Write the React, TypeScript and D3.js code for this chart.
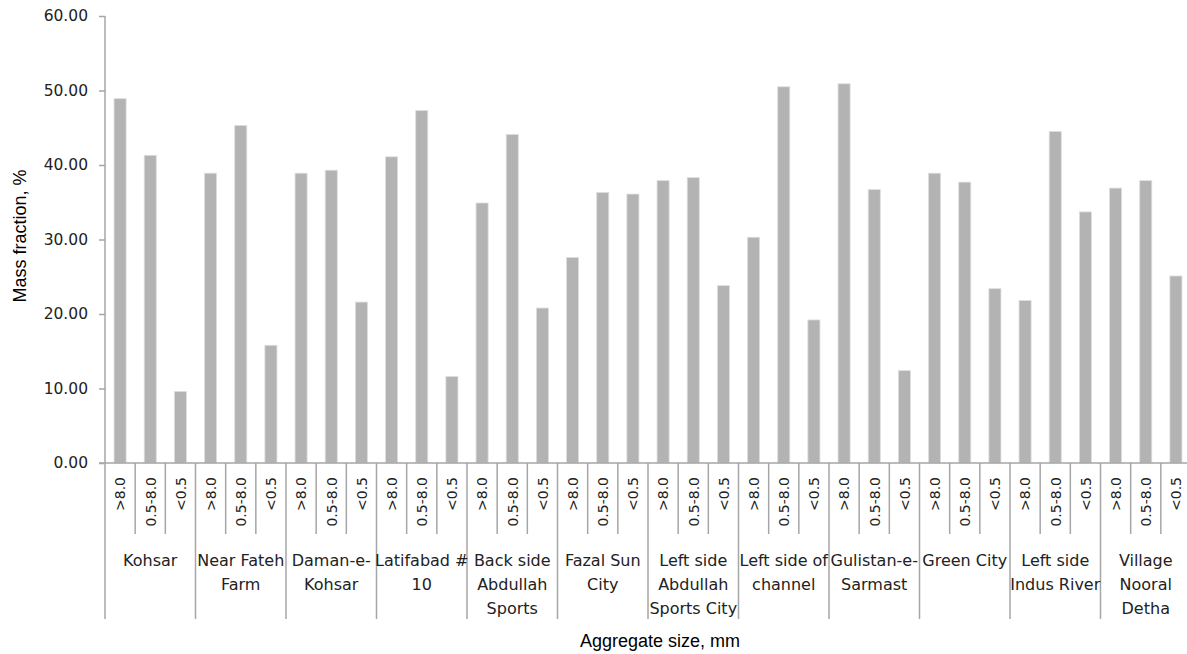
import React, { useRef, useEffect } from 'react';
import * as d3 from 'd3';

// sampling sites (one label line per entry)
const sites: string[][] = [
  ['Kohsar'],
  ['Near Fateh', 'Farm'],
  ['Daman-e-', 'Kohsar'],
  ['Latifabad #', '10'],
  ['Back side', 'Abdullah', 'Sports'],
  ['Fazal Sun', 'City'],
  ['Left side', 'Abdullah', 'Sports City'],
  ['Left side of', 'channel'],
  ['Gulistan-e-', 'Sarmast'],
  ['Green City'],
  ['Left side', 'Indus River'],
  ['Village', 'Nooral', 'Detha'],
];

const sizeClasses = ['>8.0', '0.5-8.0', '<0.5'];

// mass fraction, % per size class
const coarse = [48.9, 38.9, 38.9, 41.1, 34.9, 27.6, 37.9, 30.3, 50.9, 38.9, 21.8, 36.9];
const medium = [41.3, 45.3, 39.3, 47.3, 44.1, 36.3, 38.3, 50.5, 36.7, 37.7, 44.5, 37.9];
const fine = [9.6, 15.8, 21.6, 11.6, 20.8, 36.1, 23.8, 19.2, 12.4, 23.4, 33.7, 25.1];

const yTicks = [0, 10, 20, 30, 40, 50, 60];

const W = 1187;
const H = 654;
const AXIS = '#a6a6a6';
const BAR = '#b3b3b3';

const Chart: React.FC = () => {
  const svgRef = useRef<SVGSVGElement>(null);

  useEffect(() => {
    if (!svgRef.current) return;
    const svg = d3.select(svgRef.current);
    svg.selectAll('*').remove();

    const series = [coarse, medium, fine];
    const rows = sites.flatMap((s, gi) =>
      sizeClasses.map((c, ci) => ({ key: `${gi}-${ci}`, site: gi, cls: c, value: series[ci][gi] }))
    );

    const left = 105;
    const right = 1191;
    const top = 16;
    const bottom = 463;

    const x = d3.scaleBand<string>()
      .domain(rows.map(r => r.key))
      .range([left, right])
      .paddingInner(0.6)
      .paddingOuter(0.3);
    const step = x.step();
    const catStart = (i: number) => left + i * step;

    const y = d3.scaleLinear().domain([0, 60]).range([bottom, top]);

    // bars
    svg.append('g')
      .selectAll('rect')
      .data(rows)
      .join('rect')
      .attr('x', d => x(d.key)!)
      .attr('y', d => y(d.value))
      .attr('width', x.bandwidth())
      .attr('height', d => y(0) - y(d.value))
      .attr('fill', BAR)
      .attr('stroke', '#dedede')
      .attr('stroke-width', 0.8);

    // y axis
    const yAxis = svg.append('g')
      .attr('transform', `translate(${left},0)`)
      .call(d3.axisLeft(y).tickValues(yTicks).tickSize(6).tickPadding(11).tickFormat(d3.format('.2f')));
    yAxis.select('.domain').remove();
    yAxis.selectAll('line').attr('stroke', AXIS).attr('stroke-width', 1.5);
    yAxis.selectAll('text')
      .attr('font-family', '"DejaVu Sans", Verdana, sans-serif')
      .attr('font-size', 15.5)
      .attr('fill', '#222');

    svg.append('line')
      .attr('x1', left).attr('x2', left)
      .attr('y1', top).attr('y2', 619)
      .attr('stroke', AXIS).attr('stroke-width', 1.5);
    svg.append('line')
      .attr('x1', left - 6).attr('x2', right)
      .attr('y1', bottom).attr('y2', bottom)
      .attr('stroke', AXIS).attr('stroke-width', 1.5);

    // separators between categories
    const seps = d3.range(1, rows.length + 1);
    svg.append('g')
      .selectAll('line')
      .data(seps)
      .join('line')
      .attr('x1', i => catStart(i)).attr('x2', i => catStart(i))
      .attr('y1', bottom)
      .attr('y2', i => (i % 3 === 0 ? 619 : 534))
      .attr('stroke', AXIS)
      .attr('stroke-width', 1.5);

    // size class labels, rotated to read bottom-to-top, aligned at the top
    svg.append('g')
      .selectAll('text')
      .data(rows)
      .join('text')
      .attr('transform', d => `translate(${x(d.key)! + x.bandwidth() / 2 + 0.5},477) rotate(-90)`)
      .attr('text-anchor', 'end')
      .attr('dy', '0.35em')
      .attr('font-family', '"DejaVu Sans", Verdana, sans-serif')
      .attr('font-size', 14)
      .attr('fill', '#222')
      .text(d => d.cls);

    // site labels
    const siteG = svg.append('g')
      .selectAll('text')
      .data(sites)
      .join('text')
      .attr('text-anchor', 'middle')
      .attr('font-family', '"DejaVu Sans", Verdana, sans-serif')
      .attr('font-size', 16)
      .attr('fill', '#222');
    siteG.selectAll('tspan')
      .data((d, gi) => d.map(line => ({ line, gi })))
      .join('tspan')
      .attr('x', d => catStart(d.gi * 3) + step * 1.5)
      .attr('y', (d, i) => 566 + i * 24)
      .text(d => d.line);

    // axis titles
    svg.append('text')
      .attr('transform', `translate(26,236) rotate(-90)`)
      .attr('text-anchor', 'middle')
      .attr('font-family', '"Liberation Sans", Arial, sans-serif')
      .attr('font-size', 18)
      .attr('fill', '#000')
      .text('Mass fraction, %');

    svg.append('text')
      .attr('x', 660)
      .attr('y', 647)
      .attr('text-anchor', 'middle')
      .attr('font-family', '"Liberation Sans", Arial, sans-serif')
      .attr('font-size', 18)
      .attr('fill', '#000')
      .text('Aggregate size, mm');
  }, []);

  return <svg ref={svgRef} width={W} height={H} style={{ position: 'absolute', left: 0, top: 0, background: '#fff' }} />;
};

export default function App() {
  return <Chart />;
}
